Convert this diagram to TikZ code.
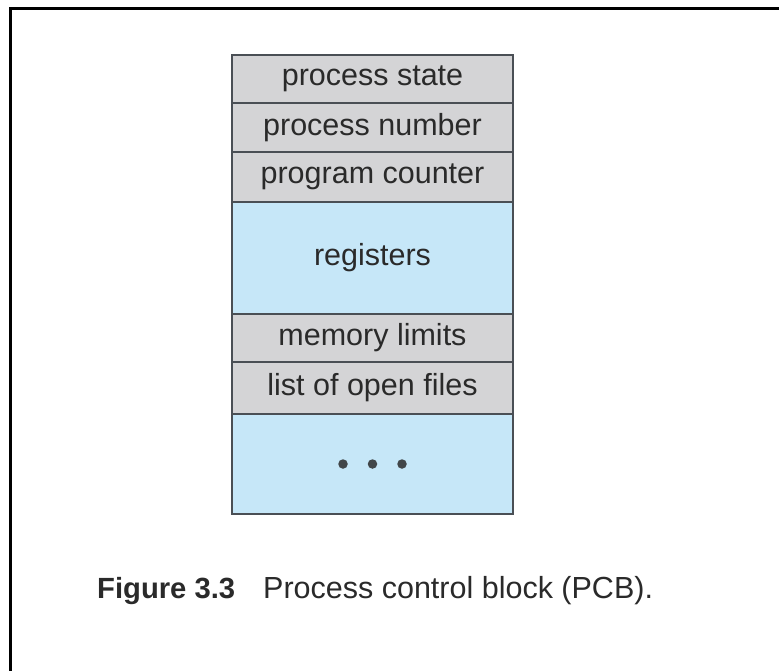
\documentclass[tikz,border=0pt]{standalone}
\usepackage{fontspec}
\setmainfont{Liberation Sans}
\definecolor{pcbgray}{HTML}{D4D4D6}
\definecolor{pcbblue}{HTML}{C6E7F8}
\definecolor{pcbline}{HTML}{4A4F55}
\definecolor{pcbtext}{HTML}{2A2A2A}
\begin{document}
\begin{tikzpicture}[x=1pt,y=-1pt,
  cell/.style={draw=pcbline,line width=1.6pt,minimum width=281pt,inner sep=0pt,outer sep=0pt,
    text=pcbtext,font=\fontsize{30.5}{34}\selectfont},
  graycell/.style={cell,fill=pcbgray},
  bluecell/.style={cell,fill=pcbblue},
  dotmark/.style={circle,fill=pcbtext!85!pcbblue,inner sep=0pt,minimum size=9.5pt}]
\useasboundingbox (0,0) rectangle (779,671);
\fill[white] (0,0) rectangle (779,671);
\draw[line width=3pt,black] (10,671) -- (10,8.5) -- (779,8.5);
\node[graycell,minimum height=48pt] (ps) at (372.5,79) {process state};
\node[graycell,minimum height=49pt] (pn) at (372.5,127.5) {process number};
\node[graycell,minimum height=50pt] (pc) at (372.5,177) {program counter};
\node[bluecell,minimum height=112pt] (reg) at (372.5,258) {registers};
\node[graycell,minimum height=48pt] (ml) at (372.5,338) {memory limits};
\node[graycell,minimum height=52pt] (lf) at (372.5,388) {list of open files};
\node[bluecell,minimum height=100pt] (etc) at (372.5,464) {};
\node[dotmark] (d1) at ([xshift=-29.5pt]etc.center) {};
\node[dotmark] (d2) at (etc.center) {};
\node[dotmark] (d3) at ([xshift=29.5pt]etc.center) {};
\node[anchor=base west,inner sep=0pt,text=pcbtext,font=\fontsize{29.2}{33}\selectfont\bfseries] (fig) at (97,598) {Figure 3.3};
\node[anchor=base west,inner sep=0pt,text=pcbtext,font=\fontsize{30.5}{34}\selectfont] (cap) at (263,598) {Process control block (PCB).};
\end{tikzpicture}
\end{document}
